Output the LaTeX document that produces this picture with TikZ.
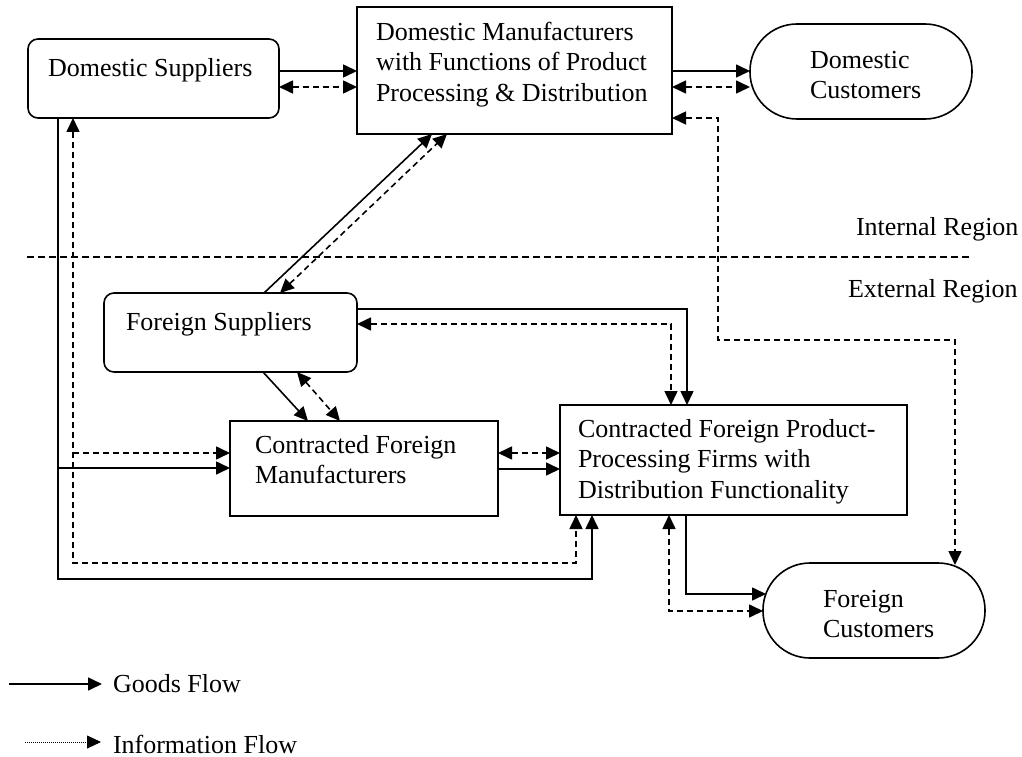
\documentclass[tikz,border=0pt]{standalone}
\usepackage{fontspec}
\setmainfont{Liberation Serif}
\usetikzlibrary{arrows.meta}
\tikzset{
  every node/.style={inner sep=0pt, outer sep=0pt},
  box/.style={draw, line width=1.6pt},
  rbox/.style={box, rounded corners=10pt},
  stadium/.style={box, rounded corners=47pt},
  txt/.style={font=\fontsize{26}{30.5}\selectfont, align=left, anchor=north west},
  tip/.tip={Triangle[length=14pt,width=13pt]},
  goods/.style={line width=1.6pt, -tip},
  info/.style={line width=1.6pt, dash pattern=on 6pt off 4pt, -tip},
  both/.style={tip-tip},
  region/.style={line width=1.6pt, dash pattern=on 7pt off 4pt},
  legendinfo/.style={line width=0.8pt, dash pattern=on 1pt off 1pt, -tip},
}
\begin{document}
\begin{tikzpicture}[x=1pt, y=-1pt]
\useasboundingbox (0,0) rectangle (1022,757);

% boxes
\node[rbox, minimum width=251pt, minimum height=79pt] (ds) at (153.5,78.5) {};
\node[box, minimum width=315pt, minimum height=127pt] (dm) at (514.5,70.5) {};
\node[stadium, minimum width=222pt, minimum height=95pt] (dc) at (861,71.5) {};
\node[rbox, minimum width=253pt, minimum height=79pt] (fs) at (230.5,332.5) {};
\node[box, minimum width=268pt, minimum height=95pt] (cfm) at (364,468.5) {};
\node[box, minimum width=347pt, minimum height=110pt] (cfpp) at (733.5,460) {};
\node[stadium, minimum width=222pt, minimum height=95pt] (fc) at (874,610.5) {};

% texts
\node[txt] (dsT) at (48,55) {\strut Domestic Suppliers};
\node[txt] (dmT) at (376,19) {\strut Domestic Manufacturers\\with Functions of Product\\Processing \& Distribution};
\node[txt] (dcT) at (810,47) {\strut Domestic\\Customers};
\node[txt] (inT) at (856,214) {\strut Internal Region};
\node[txt] (exT) at (848,276) {\strut External Region};
\node[txt] (fsT) at (126,309) {\strut Foreign Suppliers};
\node[txt] (cfmT) at (255,432) {\strut Contracted Foreign\\Manufacturers};
\node[txt] (cfppT) at (578,416) {\strut Contracted Foreign Product-\\Processing Firms with\\Distribution Functionality};
\node[txt] (fcT) at (823,586) {\strut Foreign\\Customers};
\node[txt] (gfT) at (113,671) {\strut Goods Flow};
\node[txt] (ifT) at (113,732) {\strut Information Flow};

% region separator
\draw[region] (27,257) -- (970,257);

% domestic row
\draw[goods] (ds.east |- 0,71) -- (dm.west |- 0,71);
\draw[info,both] (ds.east |- 0,87) -- (dm.west |- 0,87);
\draw[goods] (dm.east |- 0,71) -- (dc.west |- 0,71);
\draw[info,both] (dm.east |- 0,87) -- (dc.west |- 0,87);

% foreign suppliers to domestic manufacturers
\draw[goods] (fs.north -| 264,0) -- (dm.south -| 432,0);
\draw[info,both] (fs.north -| 280,0) -- (dm.south -| 447,0);

% foreign suppliers to contracted manufacturers
\draw[goods] (fs.south -| 263,0) -- (cfm.north -| 308,0);
\draw[info,both] (fs.south -| 297,0) -- (cfm.north -| 340,0);

% foreign suppliers to processing firms
\draw[goods] (fs.east |- 0,309) -| (cfpp.north -| 687,0);
\draw[info,both] (fs.east |- 0,324) -| (cfpp.north -| 671,0);

% contracted manufacturers to processing firms
\draw[info,both] (cfm.east |- 0,453) -- (cfpp.west |- 0,453);
\draw[goods] (cfm.east |- 0,469) -- (cfpp.west |- 0,469);

% domestic suppliers down the left side
\coordinate (g1) at (58,579);
\coordinate (g2) at (58,468);
\coordinate (i1) at (73,563);
\coordinate (i2) at (73,453);
\draw[goods] (ds.south -| 58,0) -- (g1) -| (cfpp.south -| 592,0);
\draw[goods] (g2) -- (cfm.west |- g2);
\draw[info,both] (ds.south -| 73,0) -- (i1) -| (cfpp.south -| 576,0);
\draw[info] (i2) -- (cfm.west |- i2);

% processing firms to foreign customers
\draw[goods, shorten >=-3pt] (cfpp.south -| 686,0) |- (fc.west |- 0,594);
\draw[info,both] (cfpp.south -| 669,0) |- (fc.west |- 0,611);

% domestic manufacturers to foreign customers
\coordinate (r1) at (718,118);
\coordinate (r2) at (718,340);
\draw[info,both, shorten >=-2pt] (dm.east |- r1) -- (r1) -- (r2) -| (fc.north -| 955,0);

% legend
\coordinate (l1) at (9,684);
\coordinate (l2) at (25,742);
\draw[goods, shorten >=11pt] (l1) -- (gfT.west |- l1);
\draw[legendinfo, shorten >=12pt] (l2) -- (ifT.west |- l2);
\end{tikzpicture}
\end{document}
